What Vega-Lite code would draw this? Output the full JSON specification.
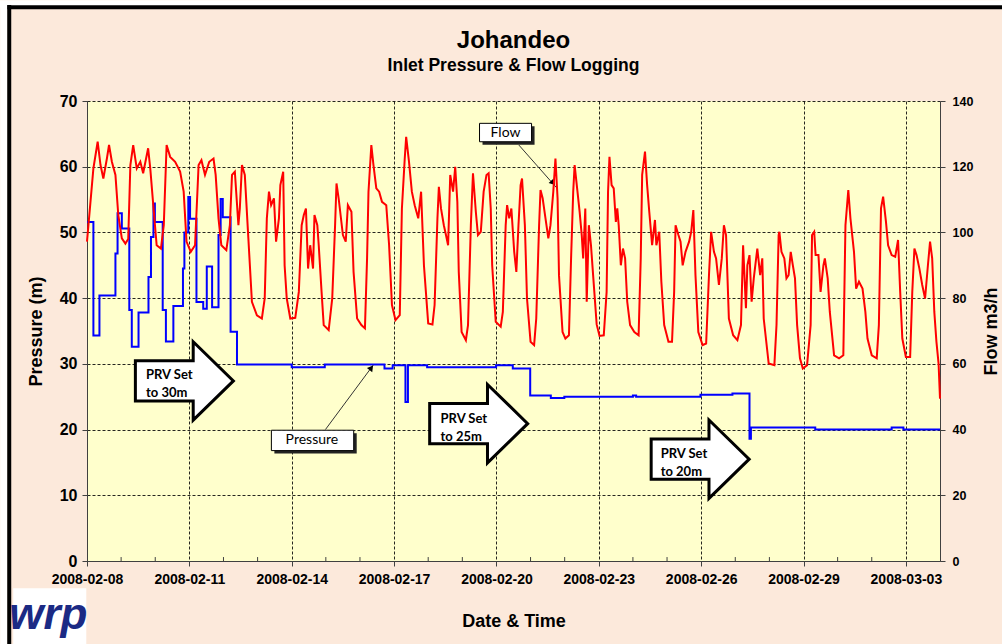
{
  "$schema": "https://vega.github.io/schema/vega-lite/v6.json",
  "width": 853,
  "height": 460,
  "autosize": "none",
  "padding": {"left": 87, "top": 101, "right": 62, "bottom": 83},
  "background": "#FCE9DB",
  "config": {"view": {"fill": "#FFFFCC", "stroke": null}, "font": "Liberation Sans"},
  "title": {
    "text": "Johandeo",
    "subtitle": "Inlet Pressure & Flow Logging",
    "anchor": "middle",
    "frame": "group",
    "font": "Liberation Sans",
    "fontSize": 24,
    "fontWeight": "bold",
    "color": "black",
    "subtitleFont": "Liberation Sans",
    "subtitleFontSize": 17.5,
    "subtitleFontWeight": "bold",
    "subtitleColor": "black",
    "subtitlePadding": 4,
    "offset": -74
  },
  "datasets": {
    "pressure": [
      {"t": "2008-02-08T00:00", "p": 51.6}, {"t": "2008-02-08T04:30", "p": 34.3}, {"t": "2008-02-08T08:45", "p": 40.4}, {"t": "2008-02-08T20:00", "p": 46.8}, {"t": "2008-02-08T21:30", "p": 52.9},
      {"t": "2008-02-09T00:30", "p": 50.6}, {"t": "2008-02-09T05:45", "p": 38.2}, {"t": "2008-02-09T07:30", "p": 32.6}, {"t": "2008-02-09T12:15", "p": 37.8}, {"t": "2008-02-09T19:15", "p": 43.2}, {"t": "2008-02-09T21:00", "p": 49.3}, {"t": "2008-02-09T22:45", "p": 54.4}, {"t": "2008-02-09T23:45", "p": 51.6},
      {"t": "2008-02-10T05:15", "p": 38.2}, {"t": "2008-02-10T07:30", "p": 33.4}, {"t": "2008-02-10T12:45", "p": 38.8}, {"t": "2008-02-10T19:30", "p": 44.5}, {"t": "2008-02-10T20:30", "p": 50.0}, {"t": "2008-02-10T23:15", "p": 55.4},
      {"t": "2008-02-11T00:30", "p": 52.1}, {"t": "2008-02-11T05:00", "p": 39.4}, {"t": "2008-02-11T09:45", "p": 38.4}, {"t": "2008-02-11T12:15", "p": 44.8}, {"t": "2008-02-11T16:00", "p": 38.6}, {"t": "2008-02-11T20:30", "p": 49.6}, {"t": "2008-02-11T22:00", "p": 55.1}, {"t": "2008-02-11T23:30", "p": 52.3},
      {"t": "2008-02-12T05:00", "p": 34.9}, {"t": "2008-02-12T09:30", "p": 29.9},
      {"t": "2008-02-14T00:00", "p": 29.5}, {"t": "2008-02-14T23:15", "p": 29.9},
      {"t": "2008-02-16T17:15", "p": 29.3}, {"t": "2008-02-16T23:00", "p": 29.8},
      {"t": "2008-02-17T08:00", "p": 24.2}, {"t": "2008-02-17T09:45", "p": 29.8}, {"t": "2008-02-17T23:15", "p": 29.5},
      {"t": "2008-02-19T23:45", "p": 29.8},
      {"t": "2008-02-20T11:30", "p": 29.3}, {"t": "2008-02-20T23:45", "p": 25.2},
      {"t": "2008-02-21T14:15", "p": 24.8}, {"t": "2008-02-21T23:45", "p": 25.0},
      {"t": "2008-02-24T00:00", "p": 25.2}, {"t": "2008-02-24T02:15", "p": 25.0},
      {"t": "2008-02-25T23:30", "p": 25.3},
      {"t": "2008-02-26T22:00", "p": 25.5},
      {"t": "2008-02-27T10:00", "p": 18.6}, {"t": "2008-02-27T11:00", "p": 20.3},
      {"t": "2008-02-29T08:15", "p": 20.0},
      {"t": "2008-03-02T14:00", "p": 20.3}, {"t": "2008-03-02T22:15", "p": 20.0},
      {"t": "2008-03-04T00:00", "p": 20.0}
    ],
    "flow": [
      {"t": "2008-02-08T00:00", "v": 97.2}, {"t": "2008-02-08T04:30", "v": 119.5}, {"t": "2008-02-08T07:30", "v": 127.6}, {"t": "2008-02-08T09:30", "v": 120.5}, {"t": "2008-02-08T11:30", "v": 116.4}, {"t": "2008-02-08T14:00", "v": 122.5}, {"t": "2008-02-08T15:30", "v": 126.6}, {"t": "2008-02-08T17:30", "v": 121.5}, {"t": "2008-02-08T20:00", "v": 117.5}, {"t": "2008-02-08T22:00", "v": 105.3},
      {"t": "2008-02-09T00:30", "v": 98.2}, {"t": "2008-02-09T03:00", "v": 96.6}, {"t": "2008-02-09T05:00", "v": 98.0}, {"t": "2008-02-09T06:30", "v": 120.5}, {"t": "2008-02-09T08:30", "v": 126.6}, {"t": "2008-02-09T11:00", "v": 119.5}, {"t": "2008-02-09T13:30", "v": 121.5}, {"t": "2008-02-09T15:30", "v": 118.0}, {"t": "2008-02-09T19:00", "v": 125.6}, {"t": "2008-02-09T20:30", "v": 119.5}, {"t": "2008-02-09T23:00", "v": 106.3},
      {"t": "2008-02-10T01:00", "v": 96.1}, {"t": "2008-02-10T04:00", "v": 95.1}, {"t": "2008-02-10T06:00", "v": 102.2}, {"t": "2008-02-10T08:00", "v": 126.6}, {"t": "2008-02-10T10:30", "v": 123.0}, {"t": "2008-02-10T14:00", "v": 121.5}, {"t": "2008-02-10T17:30", "v": 118.5}, {"t": "2008-02-10T20:00", "v": 112.4}, {"t": "2008-02-10T22:00", "v": 97.2},
      {"t": "2008-02-11T01:00", "v": 94.1}, {"t": "2008-02-11T04:00", "v": 96.1}, {"t": "2008-02-11T06:30", "v": 120.5}, {"t": "2008-02-11T08:30", "v": 122.0}, {"t": "2008-02-11T11:00", "v": 117.5}, {"t": "2008-02-11T14:00", "v": 121.5}, {"t": "2008-02-11T17:00", "v": 122.5}, {"t": "2008-02-11T18:30", "v": 117.5}, {"t": "2008-02-11T20:30", "v": 104.3}, {"t": "2008-02-11T22:30", "v": 96.1},
      {"t": "2008-02-12T02:00", "v": 94.6}, {"t": "2008-02-12T04:30", "v": 102.2}, {"t": "2008-02-12T06:00", "v": 117.5}, {"t": "2008-02-12T08:00", "v": 118.5}, {"t": "2008-02-12T10:30", "v": 102.2}, {"t": "2008-02-12T11:30", "v": 107.3}, {"t": "2008-02-12T13:00", "v": 120.5}, {"t": "2008-02-12T15:00", "v": 117.5}, {"t": "2008-02-12T17:30", "v": 98.2}, {"t": "2008-02-12T20:00", "v": 78.9}, {"t": "2008-02-12T23:30", "v": 74.8},
      {"t": "2008-02-13T03:00", "v": 73.8}, {"t": "2008-02-13T05:00", "v": 79.9}, {"t": "2008-02-13T06:30", "v": 104.3}, {"t": "2008-02-13T08:00", "v": 112.4}, {"t": "2008-02-13T09:30", "v": 108.3}, {"t": "2008-02-13T11:30", "v": 110.4}, {"t": "2008-02-13T13:00", "v": 97.2}, {"t": "2008-02-13T15:00", "v": 104.3}, {"t": "2008-02-13T16:00", "v": 114.4}, {"t": "2008-02-13T18:00", "v": 118.5}, {"t": "2008-02-13T19:00", "v": 90.0}, {"t": "2008-02-13T20:30", "v": 79.9}, {"t": "2008-02-13T23:00", "v": 73.8},
      {"t": "2008-02-14T02:30", "v": 74.0}, {"t": "2008-02-14T05:00", "v": 81.9}, {"t": "2008-02-14T07:00", "v": 102.2}, {"t": "2008-02-14T08:30", "v": 105.3}, {"t": "2008-02-14T10:00", "v": 107.3}, {"t": "2008-02-14T11:30", "v": 89.0}, {"t": "2008-02-14T13:00", "v": 96.1}, {"t": "2008-02-14T15:00", "v": 89.0}, {"t": "2008-02-14T16:00", "v": 105.3}, {"t": "2008-02-14T18:00", "v": 102.2}, {"t": "2008-02-14T19:00", "v": 96.1}, {"t": "2008-02-14T21:00", "v": 81.9}, {"t": "2008-02-14T22:30", "v": 71.8},
      {"t": "2008-02-15T02:00", "v": 70.3}, {"t": "2008-02-15T04:30", "v": 79.9}, {"t": "2008-02-15T06:30", "v": 102.2}, {"t": "2008-02-15T07:30", "v": 114.9}, {"t": "2008-02-15T09:00", "v": 110.4}, {"t": "2008-02-15T12:00", "v": 99.2}, {"t": "2008-02-15T14:00", "v": 97.2}, {"t": "2008-02-15T15:30", "v": 108.3}, {"t": "2008-02-15T18:00", "v": 106.3}, {"t": "2008-02-15T19:30", "v": 88.0}, {"t": "2008-02-15T22:00", "v": 73.8},
      {"t": "2008-02-16T01:00", "v": 71.8}, {"t": "2008-02-16T03:30", "v": 70.8}, {"t": "2008-02-16T05:00", "v": 92.1}, {"t": "2008-02-16T06:00", "v": 112.4}, {"t": "2008-02-16T08:00", "v": 126.6}, {"t": "2008-02-16T09:30", "v": 120.5}, {"t": "2008-02-16T11:30", "v": 113.4}, {"t": "2008-02-16T13:30", "v": 112.4}, {"t": "2008-02-16T15:30", "v": 109.3}, {"t": "2008-02-16T18:30", "v": 108.3}, {"t": "2008-02-16T20:30", "v": 96.1}, {"t": "2008-02-16T22:30", "v": 77.9},
      {"t": "2008-02-17T01:00", "v": 73.3}, {"t": "2008-02-17T04:00", "v": 74.8}, {"t": "2008-02-17T05:30", "v": 107.3}, {"t": "2008-02-17T07:30", "v": 122.5}, {"t": "2008-02-17T08:30", "v": 129.1}, {"t": "2008-02-17T10:30", "v": 121.5}, {"t": "2008-02-17T12:30", "v": 112.4}, {"t": "2008-02-17T14:30", "v": 108.3}, {"t": "2008-02-17T17:00", "v": 104.3}, {"t": "2008-02-17T19:00", "v": 112.4}, {"t": "2008-02-17T21:00", "v": 90.0},
      {"t": "2008-02-18T00:00", "v": 72.3}, {"t": "2008-02-18T03:00", "v": 72.0}, {"t": "2008-02-18T04:30", "v": 77.9}, {"t": "2008-02-18T06:30", "v": 104.3}, {"t": "2008-02-18T07:30", "v": 113.9}, {"t": "2008-02-18T09:00", "v": 107.3}, {"t": "2008-02-18T11:00", "v": 102.2}, {"t": "2008-02-18T12:30", "v": 99.2}, {"t": "2008-02-18T14:00", "v": 96.1}, {"t": "2008-02-18T15:30", "v": 117.5}, {"t": "2008-02-18T17:30", "v": 112.4}, {"t": "2008-02-18T19:00", "v": 120.0}, {"t": "2008-02-18T20:30", "v": 109.3}, {"t": "2008-02-18T21:30", "v": 88.0}, {"t": "2008-02-18T23:30", "v": 69.7},
      {"t": "2008-02-19T02:30", "v": 67.2}, {"t": "2008-02-19T04:00", "v": 71.8}, {"t": "2008-02-19T06:00", "v": 102.2}, {"t": "2008-02-19T07:30", "v": 118.0}, {"t": "2008-02-19T09:30", "v": 106.3}, {"t": "2008-02-19T11:00", "v": 99.2}, {"t": "2008-02-19T13:00", "v": 100.2}, {"t": "2008-02-19T15:00", "v": 112.4}, {"t": "2008-02-19T17:00", "v": 117.5}, {"t": "2008-02-19T18:30", "v": 118.0}, {"t": "2008-02-19T20:00", "v": 107.3}, {"t": "2008-02-19T21:00", "v": 90.0}, {"t": "2008-02-19T23:30", "v": 72.8},
      {"t": "2008-02-20T03:00", "v": 71.3}, {"t": "2008-02-20T04:30", "v": 75.8}, {"t": "2008-02-20T06:30", "v": 102.2}, {"t": "2008-02-20T07:30", "v": 108.3}, {"t": "2008-02-20T09:00", "v": 104.3}, {"t": "2008-02-20T10:30", "v": 107.3}, {"t": "2008-02-20T12:30", "v": 94.1}, {"t": "2008-02-20T14:00", "v": 88.0}, {"t": "2008-02-20T15:30", "v": 102.2}, {"t": "2008-02-20T17:00", "v": 114.4}, {"t": "2008-02-20T18:00", "v": 116.4}, {"t": "2008-02-20T20:00", "v": 102.2}, {"t": "2008-02-20T21:30", "v": 79.9},
      {"t": "2008-02-21T00:00", "v": 66.7}, {"t": "2008-02-21T02:30", "v": 65.7}, {"t": "2008-02-21T04:00", "v": 73.8}, {"t": "2008-02-21T06:00", "v": 102.2}, {"t": "2008-02-21T07:00", "v": 112.9}, {"t": "2008-02-21T08:30", "v": 110.4}, {"t": "2008-02-21T10:30", "v": 104.3}, {"t": "2008-02-21T12:30", "v": 98.2}, {"t": "2008-02-21T14:00", "v": 102.2}, {"t": "2008-02-21T16:00", "v": 112.4}, {"t": "2008-02-21T17:30", "v": 122.5}, {"t": "2008-02-21T19:00", "v": 110.4}, {"t": "2008-02-21T20:00", "v": 87.0}, {"t": "2008-02-21T22:30", "v": 69.7},
      {"t": "2008-02-22T00:30", "v": 67.7}, {"t": "2008-02-22T03:00", "v": 68.7}, {"t": "2008-02-22T04:30", "v": 92.1}, {"t": "2008-02-22T06:00", "v": 112.4}, {"t": "2008-02-22T07:00", "v": 120.5}, {"t": "2008-02-22T09:00", "v": 112.4}, {"t": "2008-02-22T10:30", "v": 106.3}, {"t": "2008-02-22T12:00", "v": 99.2}, {"t": "2008-02-22T13:00", "v": 92.1}, {"t": "2008-02-22T14:30", "v": 107.3}, {"t": "2008-02-22T15:30", "v": 78.9}, {"t": "2008-02-22T17:00", "v": 102.2}, {"t": "2008-02-22T18:30", "v": 96.1}, {"t": "2008-02-22T20:00", "v": 87.0}, {"t": "2008-02-22T22:30", "v": 72.0},
      {"t": "2008-02-23T00:30", "v": 68.5}, {"t": "2008-02-23T03:30", "v": 68.7}, {"t": "2008-02-23T05:30", "v": 81.9}, {"t": "2008-02-23T06:30", "v": 112.4}, {"t": "2008-02-23T07:30", "v": 123.0}, {"t": "2008-02-23T09:00", "v": 114.4}, {"t": "2008-02-23T10:30", "v": 113.4}, {"t": "2008-02-23T12:00", "v": 103.2}, {"t": "2008-02-23T13:00", "v": 107.3}, {"t": "2008-02-23T14:00", "v": 102.2}, {"t": "2008-02-23T15:30", "v": 90.0}, {"t": "2008-02-23T17:00", "v": 95.1}, {"t": "2008-02-23T18:30", "v": 92.1}, {"t": "2008-02-23T20:00", "v": 78.9}, {"t": "2008-02-23T22:00", "v": 71.8},
      {"t": "2008-02-24T01:00", "v": 69.7}, {"t": "2008-02-24T04:00", "v": 68.7}, {"t": "2008-02-24T05:30", "v": 92.1}, {"t": "2008-02-24T06:30", "v": 117.5}, {"t": "2008-02-24T08:30", "v": 124.6}, {"t": "2008-02-24T10:00", "v": 114.4}, {"t": "2008-02-24T11:30", "v": 106.3}, {"t": "2008-02-24T13:30", "v": 96.1}, {"t": "2008-02-24T15:30", "v": 103.8}, {"t": "2008-02-24T16:30", "v": 96.1}, {"t": "2008-02-24T18:30", "v": 100.2}, {"t": "2008-02-24T20:00", "v": 85.0}, {"t": "2008-02-24T22:00", "v": 71.8},
      {"t": "2008-02-25T01:00", "v": 66.7}, {"t": "2008-02-25T03:30", "v": 66.7}, {"t": "2008-02-25T05:00", "v": 81.9}, {"t": "2008-02-25T06:00", "v": 102.2}, {"t": "2008-02-25T08:00", "v": 99.2}, {"t": "2008-02-25T09:30", "v": 97.2}, {"t": "2008-02-25T11:00", "v": 90.0}, {"t": "2008-02-25T13:00", "v": 94.1}, {"t": "2008-02-25T15:30", "v": 97.2}, {"t": "2008-02-25T17:00", "v": 100.2}, {"t": "2008-02-25T18:30", "v": 106.8}, {"t": "2008-02-25T20:00", "v": 87.0}, {"t": "2008-02-25T22:00", "v": 69.7},
      {"t": "2008-02-26T01:00", "v": 65.7}, {"t": "2008-02-26T03:30", "v": 66.2}, {"t": "2008-02-26T05:30", "v": 87.0}, {"t": "2008-02-26T07:00", "v": 100.2}, {"t": "2008-02-26T09:00", "v": 94.1}, {"t": "2008-02-26T10:30", "v": 92.1}, {"t": "2008-02-26T12:30", "v": 84.0}, {"t": "2008-02-26T14:30", "v": 92.1}, {"t": "2008-02-26T16:00", "v": 102.2}, {"t": "2008-02-26T17:30", "v": 99.2}, {"t": "2008-02-26T19:30", "v": 73.8}, {"t": "2008-02-26T22:30", "v": 68.7},
      {"t": "2008-02-27T01:30", "v": 67.2}, {"t": "2008-02-27T04:00", "v": 71.8}, {"t": "2008-02-27T05:30", "v": 96.1}, {"t": "2008-02-27T07:30", "v": 76.9}, {"t": "2008-02-27T08:30", "v": 90.0}, {"t": "2008-02-27T10:00", "v": 93.1}, {"t": "2008-02-27T11:30", "v": 78.9}, {"t": "2008-02-27T13:00", "v": 86.0}, {"t": "2008-02-27T15:30", "v": 95.1}, {"t": "2008-02-27T17:30", "v": 87.0}, {"t": "2008-02-27T19:00", "v": 92.1}, {"t": "2008-02-27T20:00", "v": 73.8}, {"t": "2008-02-27T23:30", "v": 60.1},
      {"t": "2008-02-28T03:30", "v": 59.6}, {"t": "2008-02-28T05:00", "v": 71.8}, {"t": "2008-02-28T06:30", "v": 99.2}, {"t": "2008-02-28T07:00", "v": 100.2}, {"t": "2008-02-28T08:30", "v": 94.1}, {"t": "2008-02-28T10:30", "v": 92.1}, {"t": "2008-02-28T12:00", "v": 86.0}, {"t": "2008-02-28T13:30", "v": 87.0}, {"t": "2008-02-28T15:00", "v": 94.1}, {"t": "2008-02-28T16:30", "v": 90.0}, {"t": "2008-02-28T18:00", "v": 86.0}, {"t": "2008-02-28T19:30", "v": 71.8}, {"t": "2008-02-28T21:30", "v": 61.7}, {"t": "2008-02-28T23:30", "v": 58.6},
      {"t": "2008-02-29T02:30", "v": 59.6}, {"t": "2008-02-29T05:00", "v": 71.8}, {"t": "2008-02-29T06:00", "v": 99.2}, {"t": "2008-02-29T07:30", "v": 100.2}, {"t": "2008-02-29T08:30", "v": 93.1}, {"t": "2008-02-29T10:30", "v": 93.1}, {"t": "2008-02-29T12:00", "v": 81.9}, {"t": "2008-02-29T14:00", "v": 90.0}, {"t": "2008-02-29T15:00", "v": 92.1}, {"t": "2008-02-29T17:00", "v": 86.0}, {"t": "2008-02-29T18:30", "v": 75.8}, {"t": "2008-02-29T21:30", "v": 62.6},
      {"t": "2008-03-01T01:00", "v": 61.7}, {"t": "2008-03-01T04:00", "v": 62.6}, {"t": "2008-03-01T05:30", "v": 102.2}, {"t": "2008-03-01T07:30", "v": 112.9}, {"t": "2008-03-01T09:00", "v": 104.3}, {"t": "2008-03-01T11:30", "v": 94.1}, {"t": "2008-03-01T13:00", "v": 82.9}, {"t": "2008-03-01T15:00", "v": 85.0}, {"t": "2008-03-01T17:30", "v": 82.9}, {"t": "2008-03-01T19:30", "v": 75.8}, {"t": "2008-03-01T21:00", "v": 67.7},
      {"t": "2008-03-02T00:00", "v": 62.6}, {"t": "2008-03-02T03:30", "v": 61.7}, {"t": "2008-03-02T05:00", "v": 71.8}, {"t": "2008-03-02T06:30", "v": 107.3}, {"t": "2008-03-02T08:00", "v": 110.9}, {"t": "2008-03-02T10:00", "v": 103.2}, {"t": "2008-03-02T11:30", "v": 96.1}, {"t": "2008-03-02T14:00", "v": 93.1}, {"t": "2008-03-02T16:30", "v": 92.6}, {"t": "2008-03-02T18:30", "v": 97.7}, {"t": "2008-03-02T20:00", "v": 81.9}, {"t": "2008-03-02T21:30", "v": 67.7},
      {"t": "2008-03-03T00:00", "v": 62.1}, {"t": "2008-03-03T03:00", "v": 62.1}, {"t": "2008-03-03T04:30", "v": 81.9}, {"t": "2008-03-03T06:00", "v": 95.1}, {"t": "2008-03-03T07:30", "v": 93.1}, {"t": "2008-03-03T09:30", "v": 89.0}, {"t": "2008-03-03T11:30", "v": 84.0}, {"t": "2008-03-03T13:30", "v": 79.9}, {"t": "2008-03-03T15:30", "v": 90.0}, {"t": "2008-03-03T17:00", "v": 97.2}, {"t": "2008-03-03T18:30", "v": 92.1}, {"t": "2008-03-03T20:00", "v": 75.8}, {"t": "2008-03-03T21:30", "v": 66.7}, {"t": "2008-03-03T23:00", "v": 60.1},
      {"t": "2008-03-04T00:00", "v": 49.4}
    ],
    "xminor": [
      {"t": "2008-02-09T00:00", "p": 0, "p2": 0.6}, {"t": "2008-02-10T00:00", "p": 0, "p2": 0.6}, {"t": "2008-02-12T00:00", "p": 0, "p2": 0.6}, {"t": "2008-02-13T00:00", "p": 0, "p2": 0.6},
      {"t": "2008-02-15T00:00", "p": 0, "p2": 0.6}, {"t": "2008-02-16T00:00", "p": 0, "p2": 0.6}, {"t": "2008-02-18T00:00", "p": 0, "p2": 0.6}, {"t": "2008-02-19T00:00", "p": 0, "p2": 0.6},
      {"t": "2008-02-21T00:00", "p": 0, "p2": 0.6}, {"t": "2008-02-22T00:00", "p": 0, "p2": 0.6}, {"t": "2008-02-24T00:00", "p": 0, "p2": 0.6}, {"t": "2008-02-25T00:00", "p": 0, "p2": 0.6},
      {"t": "2008-02-27T00:00", "p": 0, "p2": 0.6}, {"t": "2008-02-28T00:00", "p": 0, "p2": 0.6}, {"t": "2008-03-01T00:00", "p": 0, "p2": 0.6}, {"t": "2008-03-02T00:00", "p": 0, "p2": 0.6}
    ],
    "yminor": [
      {"p": 2}, {"p": 4}, {"p": 6}, {"p": 8}, {"p": 12}, {"p": 14}, {"p": 16}, {"p": 18}, {"p": 22}, {"p": 24}, {"p": 26}, {"p": 28}, {"p": 32}, {"p": 34},
      {"p": 36}, {"p": 38}, {"p": 42}, {"p": 44}, {"p": 46}, {"p": 48}, {"p": 52}, {"p": 54}, {"p": 56}, {"p": 58}, {"p": 62}, {"p": 64}, {"p": 66}, {"p": 68}
    ],
    "arrows": [
      {"t": "2008-02-10T20:30", "p": 27.4},
      {"t": "2008-02-19T11:30", "p": 20.9},
      {"t": "2008-02-25T23:18", "p": 15.5}
    ],
    "arrowText": [
      {"t": "2008-02-09T17:30", "p": 28.3, "label": "PRV Set"},
      {"t": "2008-02-09T17:30", "p": 25.6, "label": "to 30m"},
      {"t": "2008-02-18T08:40", "p": 21.6, "label": "PRV Set"},
      {"t": "2008-02-18T08:40", "p": 18.8, "label": "to 25m"},
      {"t": "2008-02-24T19:30", "p": 16.3, "label": "PRV Set"},
      {"t": "2008-02-24T19:30", "p": 13.5, "label": "to 20m"}
    ],
    "boxes": [
      {"t": "2008-02-19T12:06", "t2": "2008-02-21T00:42", "p": 66.6, "p2": 63.8},
      {"t": "2008-02-13T09:42", "t2": "2008-02-15T19:36", "p": 19.9, "p2": 16.8}
    ],
    "boxText": [
      {"t": "2008-02-20T06:24", "p": 65.2, "label": "Flow"},
      {"t": "2008-02-14T14:12", "p": 18.4, "label": "Pressure"}
    ],
    "leaders": [
      {"t": "2008-02-20T15:45", "t2": "2008-02-21T18:18", "p": 63.3, "p2": 56.8},
      {"t": "2008-02-14T23:42", "t2": "2008-02-16T09:18", "p": 20.0, "p2": 29.8}
    ],
    "heads": [
      {"t": "2008-02-21T15:50", "p": 57.55, "a": 138},
      {"t": "2008-02-16T08:00", "p": 29.4, "a": 37}
    ],
    "edge": [
      {"t": "2008-02-05T13:24", "t2": "2008-02-05T13:24", "p": 84.8, "p2": -15},
      {"t": "2008-02-05T00:00", "t2": "2008-03-06T00:00", "p": 84.8, "p2": 84.8}
    ],
    "frame": [
      {"t": "2008-02-05T17:18", "t2": "2008-02-05T17:18", "p": 84.6, "p2": -15},
      {"t": "2008-02-05T16:00", "t2": "2008-03-06T00:00", "p": 84.26, "p2": 84.26}
    ],
    "logoBox": [
      {"t": "2008-02-05T20:06", "t2": "2008-02-07T23:30", "p": -4.15, "p2": -12.7}
    ],
    "logo": [
      {"t": "2008-02-06T20:48", "p": -8.4, "label": "wrp"}
    ]
  },
  "encoding": {
    "x": {
      "field": "t",
      "type": "temporal",
      "scale": {"domain": [{"year": 2008, "month": 2, "date": 8}, {"year": 2008, "month": 3, "date": 4}], "nice": false},
      "axis": {
        "values": [
          {"year": 2008, "month": 2, "date": 8}, {"year": 2008, "month": 2, "date": 11}, {"year": 2008, "month": 2, "date": 14},
          {"year": 2008, "month": 2, "date": 17}, {"year": 2008, "month": 2, "date": 20}, {"year": 2008, "month": 2, "date": 23},
          {"year": 2008, "month": 2, "date": 26}, {"year": 2008, "month": 2, "date": 29}, {"year": 2008, "month": 3, "date": 3}
        ],
        "format": "%Y-%m-%d",
        "labelFont": "Liberation Sans",
        "labelFontSize": 14,
        "labelFontWeight": "bold",
        "labelColor": "black",
        "labelPadding": 6,
        "labelFlush": false,
        "labelOverlap": false,
        "tickSize": 5,
        "tickColor": "#404040",
        "domainColor": "#404040",
        "grid": true,
        "gridDash": [3, 2],
        "gridColor": "black",
        "gridOpacity": 0.85,
        "title": "Date & Time",
        "titleFont": "Liberation Sans",
        "titleFontSize": 18,
        "titleFontWeight": "bold",
        "titleColor": "black",
        "titlePadding": 26
      }
    }
  },
  "layer": [
    {
      "encoding": {
        "y": {
          "field": "p",
          "type": "quantitative",
          "scale": {"domain": [0, 70], "nice": false},
          "axis": {
            "orient": "left",
            "values": [0, 10, 20, 30, 40, 50, 60, 70],
            "labelFont": "Liberation Sans",
            "labelFontSize": 16,
            "labelFontWeight": "bold",
            "labelColor": "black",
            "labelPadding": 5,
            "tickSize": 5,
            "tickColor": "#404040",
            "domainColor": "#404040",
            "grid": true,
            "gridDash": [3, 2],
            "gridColor": "black",
            "gridOpacity": 0.85,
            "title": "Pressure (m)",
            "titleFont": "Liberation Sans",
            "titleFontSize": 18,
            "titleFontWeight": "bold",
            "titleColor": "black",
            "titlePadding": 14
          }
        }
      },
      "layer": [
        {"data": {"name": "edge", "format": {"parse": {"t": "date", "t2": "date"}}}, "mark": {"type": "rule", "color": "white", "strokeWidth": 7}, "encoding": {"x2": {"field": "t2"}, "y2": {"field": "p2"}}},
        {"data": {"name": "frame", "format": {"parse": {"t": "date", "t2": "date"}}}, "mark": {"type": "rule", "color": "black", "strokeWidth": 4}, "encoding": {"x2": {"field": "t2"}, "y2": {"field": "p2"}}},
        {"data": {"name": "logoBox", "format": {"parse": {"t": "date", "t2": "date"}}}, "mark": {"type": "rect", "fill": "white"}, "encoding": {"x2": {"field": "t2"}, "y2": {"field": "p2"}}},
        {"data": {"name": "logo"}, "mark": {"type": "text", "font": "Liberation Sans", "fontSize": 44, "fontWeight": "bold", "fontStyle": "italic", "color": "#1B2A84", "baseline": "middle", "align": "center"}, "encoding": {"text": {"field": "label"}}},
        {"data": {"name": "xminor"}, "mark": {"type": "rule", "color": "#404040", "strokeWidth": 1}, "encoding": {"y2": {"field": "p2"}}},
        {"data": {"name": "yminor"}, "mark": {"type": "rule", "color": "#404040", "strokeWidth": 1}, "encoding": {"x": {"datum": {"year": 2008, "month": 2, "date": 8}, "type": "temporal"}, "x2": {"datum": {"year": 2008, "month": 2, "date": 8, "hours": 3}}}},
        {"data": {"name": "pressure"}, "mark": {"type": "line", "color": "#0000FF", "strokeWidth": 2, "interpolate": "step-after"}},
        {"data": {"name": "arrows"}, "mark": {"type": "point", "shape": "M-1,-0.41L0.18,-0.41L0.18,-0.8L1,0L0.18,0.8L0.18,0.41L-1,0.41Z", "size": 9604, "filled": true, "fill": "white", "stroke": "black", "strokeWidth": 3, "opacity": 1}},
        {"data": {"name": "arrowText"}, "mark": {"type": "text", "font": "Lato", "fontSize": 13, "fontWeight": "bold", "color": "black", "align": "left", "baseline": "middle"}, "encoding": {"text": {"field": "label"}}},
        {"data": {"name": "boxes", "format": {"parse": {"t": "date", "t2": "date"}}}, "mark": {"type": "rect", "fill": "#222222", "xOffset": 3, "x2Offset": 3, "yOffset": 3, "y2Offset": 3}, "encoding": {"x2": {"field": "t2"}, "y2": {"field": "p2"}}},
        {"data": {"name": "boxes", "format": {"parse": {"t": "date", "t2": "date"}}}, "mark": {"type": "rect", "fill": "white", "stroke": "black", "strokeWidth": 1}, "encoding": {"x2": {"field": "t2"}, "y2": {"field": "p2"}}},
        {"data": {"name": "boxText"}, "mark": {"type": "text", "font": "Lato", "fontSize": 14, "color": "black", "align": "center", "baseline": "middle"}, "encoding": {"text": {"field": "label"}}},
        {"data": {"name": "leaders", "format": {"parse": {"t": "date", "t2": "date"}}}, "mark": {"type": "rule", "color": "#333333", "strokeWidth": 1}, "encoding": {"x2": {"field": "t2"}, "y2": {"field": "p2"}}},
        {"data": {"name": "heads"}, "mark": {"type": "point", "shape": "triangle-up", "size": 45, "filled": true, "color": "black", "opacity": 1}, "encoding": {"angle": {"field": "a", "type": "quantitative", "scale": null}}}
      ]
    },
    {
      "data": {"name": "flow"},
      "mark": {"type": "line", "color": "#FF0000", "strokeWidth": 2},
      "encoding": {
        "y": {
          "field": "v",
          "type": "quantitative",
          "scale": {"domain": [0, 140], "nice": false},
          "axis": {
            "orient": "right",
            "values": [0, 20, 40, 60, 80, 100, 120, 140],
            "labelFont": "Liberation Sans",
            "labelFontSize": 12.5,
            "labelFontWeight": "bold",
            "labelColor": "black",
            "labelPadding": 7,
            "tickSize": 5,
            "tickColor": "#404040",
            "domainColor": "#404040",
            "grid": false,
            "title": "Flow m3/h",
            "titleAngle": 270,
            "titleFont": "Liberation Sans",
            "titleFontSize": 18,
            "titleFontWeight": "bold",
            "titleColor": "black",
            "titlePadding": 28
          }
        }
      }
    }
  ],
  "resolve": {"scale": {"y": "independent"}}
}
